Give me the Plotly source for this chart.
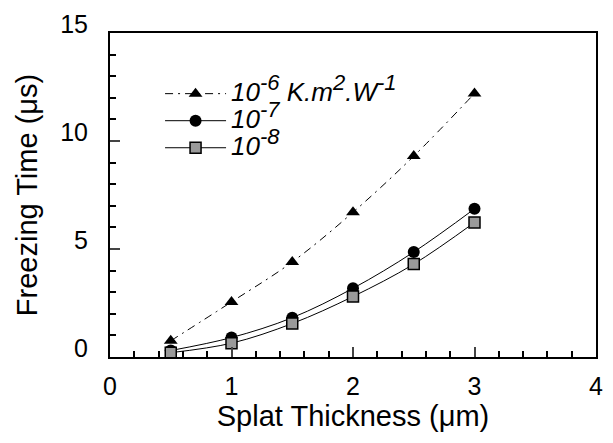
import plotly.graph_objects as go

thickness = [0.5, 1.0, 1.5, 2.0, 2.5, 3.0]
t_1e6 = [0.75, 2.55, 4.4, 6.7, 9.3, 12.2]
t_1e7 = [0.3, 0.9, 1.82, 3.18, 4.86, 6.86]
t_1e8 = [0.2, 0.64, 1.55, 2.8, 4.3, 6.23]
names = ["10<sup>-6</sup> K.m<sup>2</sup>.W<sup>-1</sup>", "10<sup>-7</sup>", "10<sup>-8</sup>"]

FONT = "Liberation Sans, Arial, sans-serif"

def big(s):
    s = s.replace("<sup>", "<sup><span style='font-size:22px'>").replace("</sup>", "</span></sup>")
    return "<span style='font-size:26px'>" + s + "</span>"

fig = go.Figure()
fig.add_trace(go.Scatter(x=thickness, y=t_1e6, name=big(names[0]), mode="lines+markers",
                         line=dict(color="black", width=1, dash="8px,5px,2px,5px", shape="spline"),
                         marker=dict(symbol="triangle-up", size=12, color="black")))
fig.add_trace(go.Scatter(x=thickness, y=t_1e7, name=big(names[1]), mode="lines+markers",
                         line=dict(color="black", width=1, shape="spline"),
                         marker=dict(symbol="circle", size=12, color="black")))
fig.add_trace(go.Scatter(x=thickness, y=t_1e8, name=big(names[2]), mode="lines+markers",
                         line=dict(color="black", width=1, shape="spline"),
                         marker=dict(symbol="square", size=11, color="#9a9a9a",
                                     line=dict(color="black", width=1.5))))

fig.update_layout(
    width=613, height=443,
    margin=dict(l=110, r=10, t=28, b=86),
    paper_bgcolor="white", plot_bgcolor="white",
    font=dict(family=FONT, color="black", size=24),
    showlegend=True,
    legend=dict(x=0.103, y=0.87, xanchor="left", yanchor="top",
                font=dict(size=18.5, family=FONT, style="italic"),
                bgcolor="rgba(0,0,0,0)", tracegroupgap=0, itemwidth=61),
)
fig.update_xaxes(range=[0, 4], dtick=1, tick0=0, ticks="inside", ticklen=10, tickwidth=1.5,
                 showline=True, linecolor="black", linewidth=2, mirror=True,
                 showgrid=False, zeroline=False,
                 minor=dict(dtick=0.2, ticks="inside", ticklen=6, tickwidth=1.5, tickcolor="black"),
                 tickfont=dict(size=25), ticklabelstandoff=6,
                 title=dict(text="Splat Thickness (μm)", font=dict(size=29), standoff=2))
fig.update_yaxes(range=[0, 15], dtick=5, tick0=0, ticks="inside", ticklen=10, tickwidth=1.5,
                 showline=True, linecolor="black", linewidth=2, mirror=True,
                 showgrid=False, zeroline=False,
                 minor=dict(dtick=1, ticks="inside", ticklen=6, tickwidth=1.5, tickcolor="black"),
                 tickfont=dict(size=25), ticklabelshift=-9, ticklabelstandoff=15,
                 title=dict(text="Freezing Time (μs)", font=dict(size=29), standoff=14))

fig.write_html("out.html")
